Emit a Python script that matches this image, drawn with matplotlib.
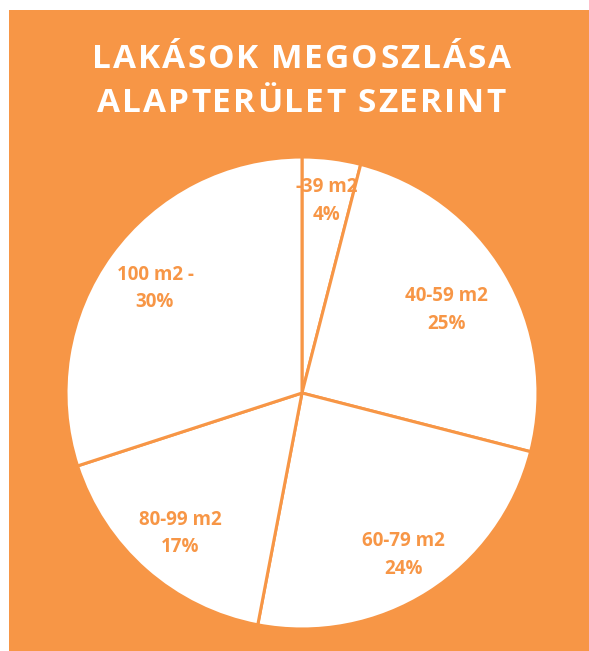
import numpy as np
import matplotlib
matplotlib.use("Agg")
import matplotlib.pyplot as plt
from matplotlib.patches import Rectangle

# data
categories = ["-39 m2", "40-59 m2", "60-79 m2", "80-99 m2", "100 m2 -"]
shares = [4, 25, 24, 17, 30]
title_lines = ["LAKÁSOK MEGOSZLÁSA", "ALAPTERÜLET SZERINT"]
label_dist = [0.83, 0.71, 0.80, 0.78, 0.77]

ORANGE = "#F79646"
W, H = 589, 651

fig = plt.figure(figsize=(W / 100, H / 100), dpi=100)
fig.patch.set_facecolor("white")
fig.add_artist(Rectangle((9 / W, 0), 1 - 9 / W, (H - 10) / H,
                         transform=fig.transFigure, facecolor=ORANGE,
                         edgecolor="none", zorder=0))

cx, cy, r = 302, 393, 236
ax = fig.add_axes([(cx - r) / W, (H - cy - r) / H, 2 * r / W, 2 * r / H])
ax.set_facecolor("none")

labels = [f"{c}\n{s}%" for c, s in zip(categories, shares)]
wedges, texts = ax.pie(shares, labels=labels, startangle=90, counterclock=False,
                       colors=["white"] * len(shares),
                       wedgeprops=dict(edgecolor=ORANGE, linewidth=2.2),
                       textprops=dict(color=ORANGE, fontsize=13.5, fontweight="bold",
                                      family="Open Sans", linespacing=1.5))
for w, t, d in zip(wedges, texts, label_dist):
    ang = np.deg2rad((w.theta1 + w.theta2) / 2)
    t.set_position((d * np.cos(ang), d * np.sin(ang) - 0.01))
    t.set_ha("center")
    t.set_va("center")
ax.set_xlim(-1, 1)
ax.set_ylim(-1, 1)
ax.set_aspect("equal")
ax.axis("off")


def spaced_text(y, s, spacing, **kw):
    # draw a line char by char with extra letter spacing (pixels), centred
    renderer = fig.canvas.get_renderer()

    def width(txt):
        t = fig.text(0, 0, txt + "I", **kw)
        w = t.get_window_extent(renderer).width
        t.remove()
        return w

    base = width("")
    offs = [width(s[:i]) - base + i * spacing for i in range(len(s) + 1)]
    total = offs[-1] - spacing
    x0 = W / 2 + 7 - total / 2
    for ch, o in zip(s, offs):
        if ch != " ":
            fig.text((x0 + o) / W, y, ch, ha="left", va="center", **kw)


title_kw = dict(color="white", fontsize=24, fontweight="bold", family="Open Sans")
for i, line in enumerate(title_lines):
    spaced_text(1 - (59 + 45 * i) / H, line, 2.0, **title_kw)

fig.savefig("out.png", dpi=100)
